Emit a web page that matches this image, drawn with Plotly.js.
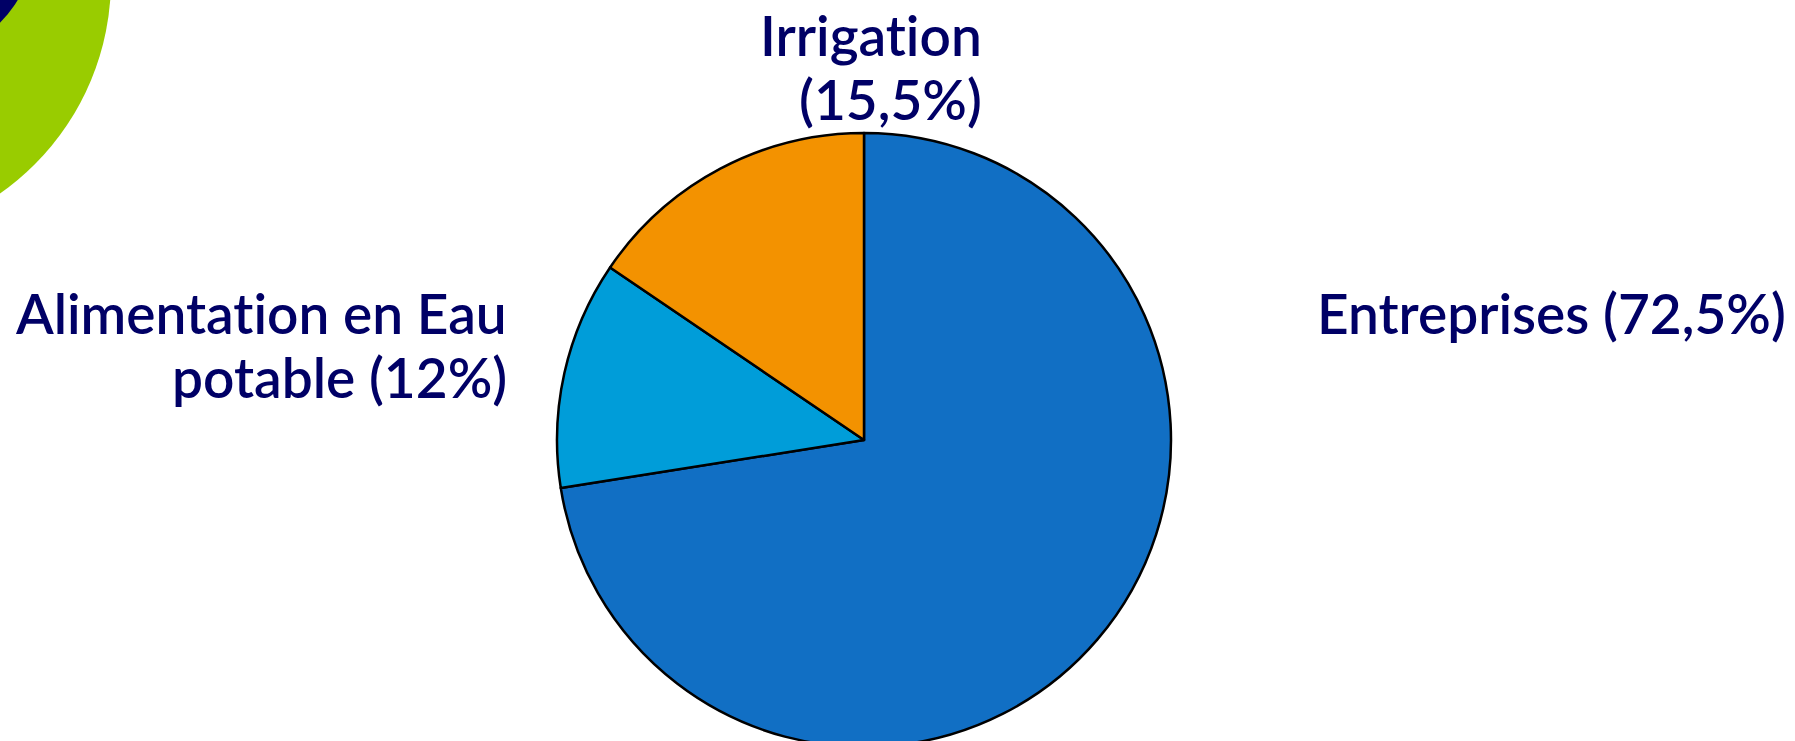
<!DOCTYPE html>
<html>
<head>
<meta charset="utf-8">
<script src="https://cdn.plot.ly/plotly-3.0.1.min.js"></script>
<style>
html,body{margin:0;padding:0;overflow:hidden;background:#fff;}
#chart{width:1795px;height:760px;}
.annotation-text{font-variant-ligatures:none;font-feature-settings:"liga" 0, "clig" 0;}
</style>
</head>
<body>
<div id="chart"></div>
<script>
// Data
const labels = ["Entreprises", "Alimentation en Eau potable", "Irrigation"];
const values = [72.5, 12, 15.5];
const sliceColors = ["#116FC4", "#009DD9", "#F39200"];
// label lines (percentage appended to the last line)
const labelLines = [["Entreprises"], ["Alimentation en Eau", "potable"], ["Irrigation", ""]];

const W = 1795, H = 760;
const textColor = "#000066";
const fontFamily = "Lato, 'Noto Sans', sans-serif";
const fontSize = 55;
const fontWeight = 600;

function pct(v){ return "(" + String(v).replace(".", ",") + "%)"; }

// pie geometry (px from top-left)
const cx = 864, cy = 440, r = 307;
const domain = {
  x: [(cx - r) / W, (cx + r) / W],
  y: [(H - cy - r) / H, (H - cy + r) / H]
};

// label placement (px)
const labelPos = [
  {x: 1315, y: 313, xanchor: "left", align: "left"},
  {x: 509, y: 313, xanchor: "right", align: "right"},
  {x: 984, y: 35, xanchor: "right", align: "right"}
];
const lineGap = 64;

const annotations = [];
labelLines.forEach((lines, i) => {
  lines.forEach((ln, j) => {
    let t = ln;
    if (j === lines.length - 1) t = (ln ? ln + " " : "") + pct(values[i]);
    annotations.push({
      xref: "paper", yref: "paper",
      x: labelPos[i].x / W,
      y: 1 - (labelPos[i].y + j * lineGap) / H,
      xanchor: labelPos[i].xanchor, yanchor: "middle",
      align: labelPos[i].align,
      showarrow: false,
      text: t,
      font: {family: fontFamily, size: fontSize, color: textColor, weight: fontWeight}
    });
  });
});

// decorative circles top-left
const shapes = [
  {type: "circle", xref: "paper", yref: "paper",
   x0: (-150 - 261) / W, x1: (-150 + 261) / W,
   y0: 1 - (-20 + 261) / H, y1: 1 - (-20 - 261) / H,
   fillcolor: "#99CC00", line: {width: 0}, layer: "below"},
  {type: "circle", xref: "paper", yref: "paper",
   x0: (-85 - 120) / W, x1: (-85 + 120) / W,
   y0: 1 - (-62 + 120) / H, y1: 1 - (-62 - 120) / H,
   fillcolor: "#000066", line: {width: 0}, layer: "below"}
];

const trace = {
  type: "pie",
  labels: labels,
  values: values,
  sort: false,
  direction: "clockwise",
  rotation: 0,
  textinfo: "none",
  hoverinfo: "label+percent",
  marker: {colors: sliceColors, line: {color: "#000000", width: 2.5}},
  domain: domain,
  showlegend: false
};

Plotly.newPlot("chart", [trace], {
  width: W, height: H,
  margin: {l: 0, r: 0, t: 0, b: 0},
  paper_bgcolor: "#ffffff",
  showlegend: false,
  annotations: annotations,
  shapes: shapes
}, {displayModeBar: false, staticPlot: true});
</script>
</body>
</html>
